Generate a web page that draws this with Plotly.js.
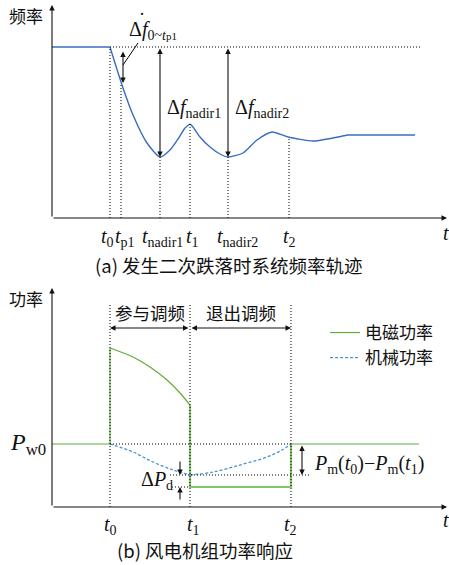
<!DOCTYPE html>
<html><head><meta charset="utf-8">
<script src="https://cdn.plot.ly/plotly-3.0.1.min.js"></script>
<style>html,body{margin:0;padding:0;background:#fff}</style>
</head><body><div id="chart" style="width:449px;height:565px"></div>
<script>
// ---- data (schematic units) ----
// (a) frequency trajectory
const fFlatT = [0, 58];           const fFlatV = [171, 171];
const fFallT = [58, 70, 81, 95, 108, 118, 126, 133, 138];
const fFallV = [171, 133, 103, 75, 61, 68, 79, 90, 94];
const fRecT  = [138, 141, 148, 158, 168, 176, 191, 205, 220, 236, 261, 281, 296];
const fRecV  = [94, 91, 81, 71, 64, 61, 65, 78, 86, 81, 77, 80, 83];
const fEndT  = [296, 363];        const fEndV = [83, 83];
const f0 = 171;
const freqTickNames = ['t0', 'tp1', 'tnadir1', 't1', 'tnadir2', 't2'];
const freqTickTimes = [58, 69, 108, 138, 176, 237];
const freqAtTicks   = [171, 133, 61, 94, 61, 80];
// (b) power response
const pw0 = 63;
const peT1 = [0, 58, 58];         const peV1 = [63, 63, 159];
const peCurT = [58, 81, 98, 115, 128, 138];
const peCurV = [159, 150, 140, 127, 114, 102];
const peLowT = [138, 138, 239, 239]; const peLowV = [102, 20, 20, 63];
const peEndT = [239, 367];        const peEndV = [63, 63];
const pmT1 = [58, 81, 101, 121, 138];      const pmV1 = [63, 55, 45, 37, 32];
const pmT2 = [138, 161, 188, 215, 230, 239]; const pmV2 = [32, 35, 42, 50, 57, 63];
const pTickNames = ['t0', 't1', 't2'];
const pTickTimes = [58, 138, 239];
const pmMin = 32, peLow = 20;

// ---- styles ----
const SERIF = 'Liberation Serif, Times New Roman, serif';
const CJK = 'Noto Sans CJK SC, sans-serif';
const BLUE = '#3a6cc2', BLUE2 = '#4a90d8', GREEN = '#5fab3a', GREEN2 = '#86c46c';
const DOT = '1px,2px';
const freqShift = [-3, 4, 2, 2, 9, 0];
const pShift = [0, 3, -1];

function tickText(n) {
  const m = n.match(/^t(.*)$/);
  return '<i>t</i><sub>' + m[1] + '</sub>';
}

const traces = [];
const line = (x, y, yaxis, color, width, extra) => ({
  x, y, xaxis: 'x', yaxis, type: 'scatter', mode: 'lines', hoverinfo: 'skip',
  showlegend: false, line: Object.assign({color, width}, extra || {})
});
traces.push(line(fFlatT, fFlatV, 'y', BLUE, 1.4));
traces.push(line(fFallT, fFallV, 'y', BLUE, 1.4, {shape: 'spline', smoothing: 0.6}));
traces.push(line(fRecT, fRecV, 'y', BLUE, 1.4, {shape: 'spline', smoothing: 0.6}));
traces.push(line(fEndT, fEndV, 'y', BLUE, 1.4));

const g = line(peCurT, peCurV, 'y2', GREEN, 1.2, {shape: 'spline', smoothing: 0.8});
g.showlegend = true; g.name = '电磁功率';
traces.push(g);
traces.push(line(peT1, peV1, 'y2', GREEN, 1.2));
traces.push(line(peLowT, peLowV, 'y2', GREEN2, 2.2));
traces.push(line(peEndT, peEndV, 'y2', GREEN, 1.2));
const m1 = line(pmT1, pmV1, 'y2', BLUE2, 1.3, {shape: 'spline', dash: '3px,2px'});
m1.showlegend = true; m1.name = '机械功率';
traces.push(m1);
traces.push(line(pmT2, pmV2, 'y2', BLUE2, 1.3, {shape: 'spline', dash: '3px,2px'}));

const shapes = [];
const seg = (x0, y0, x1, y1, yref, dash, color, width) => shapes.push({
  type: 'line', xref: 'x', yref, x0, y0, x1, y1,
  line: {color: color || '#000', width: width || 1, dash: dash || 'solid'}
});
// top guides
seg(58, f0, 369, f0, 'y', DOT);
freqTickTimes.forEach((t, i) => seg(t, 0, t, freqAtTicks[i], 'y', DOT));
seg(86, 175, 71, 153, 'y', 'solid', '#000', 1);
// bottom guides
pTickTimes.forEach(t => seg(t, 0, t, 204, 'y2', DOT));
seg(58, pw0, 239, pw0, 'y2', DOT);
seg(118, pmMin, 258, pmMin, 'y2', DOT);
seg(120, peLow, 138, peLow, 'y2', DOT);

const ann = [];
const arrow = (x, y, ax, ay, yref, both, head) => ann.push({
  x, y, ax, ay, xref: 'x', yref, axref: 'x', ayref: yref, text: '', showarrow: true,
  arrowhead: head || 2, arrowsize: 1, arrowwidth: 1.1, arrowcolor: '#111',
  arrowside: both ? 'end+start' : 'end', startarrowhead: head || 2, startarrowsize: 1, standoff: 0, startstandoff: 0
});
const txt = (x, y, yref, text, size, font, opts) => ann.push(Object.assign({
  x, y, xref: 'x', yref, text, showarrow: false,
  font: {family: font || SERIF, size: size || 20, color: '#111'}
}, opts || {}));

// axes
arrow(0, 213, 0, 0, 'y');  arrow(395, 0, 0, 0, 'y');
arrow(0, 219, 0, 0, 'y2'); arrow(395, 0, 0, 0, 'y2');
// top arrows
arrow(71, 135, 71, 168, 'y', true);
arrow(108, 61, 108, f0, 'y', true);
arrow(176, 61, 176, f0, 'y', true);
// top texts
txt(-26, 203, 'y', '频率', 17, CJK);
txt(75, 188, 'y', 'Δ<i>f</i><sub>0~<i>t</i><span style="font-size:11px">p1</span></sub>', 20, SERIF, {xanchor: 'left'});
txt(90, 204, 'y', '·', 18, SERIF);
txt(113, 110, 'y', 'Δ<i>f</i><sub>nadir1</sub>', 20, SERIF, {xanchor: 'left'});
txt(181, 110, 'y', 'Δ<i>f</i><sub>nadir2</sub>', 20, SERIF, {xanchor: 'left'});
freqTickNames.forEach((n, i) => txt(freqTickTimes[i], -19, 'y', tickText(n), 20, SERIF, {xshift: freqShift[i]}));
txt(394, -15, 'y', '<i>t</i>', 20);
txt(177, -47, 'y', '(a) 发生二次跌落时系统频率轨迹', 18.5, CJK);

// bottom arrows
arrow(58, 179, 138, 179, 'y2', true);
arrow(239, 179, 138, 179, 'y2', true);
arrow(128, pmMin, 128, 47, 'y2');
arrow(128, peLow, 128, 6, 'y2');
arrow(250, pmMin, 250, pw0, 'y2', true);
// bottom texts
txt(-26, 209, 'y2', '功率', 17, CJK);
txt(98, 195, 'y2', '参与调频', 17.5, CJK);
txt(189, 195, 'y2', '退出调频', 17.5, CJK);
txt(-4, pw0, 'y2', '<i>P</i><sub>w0</sub>', 24, SERIF, {xanchor: 'right'});
txt(123, 27, 'y2', 'Δ<i>P</i><sub>d</sub>', 20, SERIF, {xanchor: 'right'});
txt(260, 43, 'y2', '<i>P</i><sub>m</sub>(<i>t</i><sub>0</sub>)−<i>P</i><sub>m</sub>(<i>t</i><sub>1</sub>)', 20, SERIF, {xanchor: 'left'});
pTickNames.forEach((n, i) => txt(pTickTimes[i], -18, 'y2', tickText(n), 20, SERIF, {xshift: pShift[i]}));
txt(394, -13, 'y2', '<i>t</i>', 20);
txt(153, -43, 'y2', '(b) 风电机组功率响应', 18.5, CJK);

const hid = {showgrid: false, zeroline: false, showline: false, showticklabels: false, ticks: '', fixedrange: true};
const layout = {
  width: 449, height: 565, margin: {l: 0, r: 0, t: 0, b: 0},
  paper_bgcolor: '#fff', plot_bgcolor: '#fff',
  xaxis: Object.assign({domain: [0, 1], range: [-52, 397], anchor: 'y'}, hid),
  yaxis: Object.assign({domain: [0.50442, 1], range: [-62, 218], anchor: 'x'}, hid),
  yaxis2: Object.assign({domain: [0, 0.50442], range: [-58, 227], anchor: 'x'}, hid),
  showlegend: true,
  legend: {x: 0.724, y: 0.4425, xanchor: 'left', yanchor: 'top', bgcolor: 'rgba(0,0,0,0)',
           font: {family: CJK, size: 17, color: '#111'}, itemwidth: 30, tracegroupgap: 0},
  shapes, annotations: ann
};
Plotly.newPlot('chart', traces, layout, {staticPlot: true, displayModeBar: false});
</script></body></html>
